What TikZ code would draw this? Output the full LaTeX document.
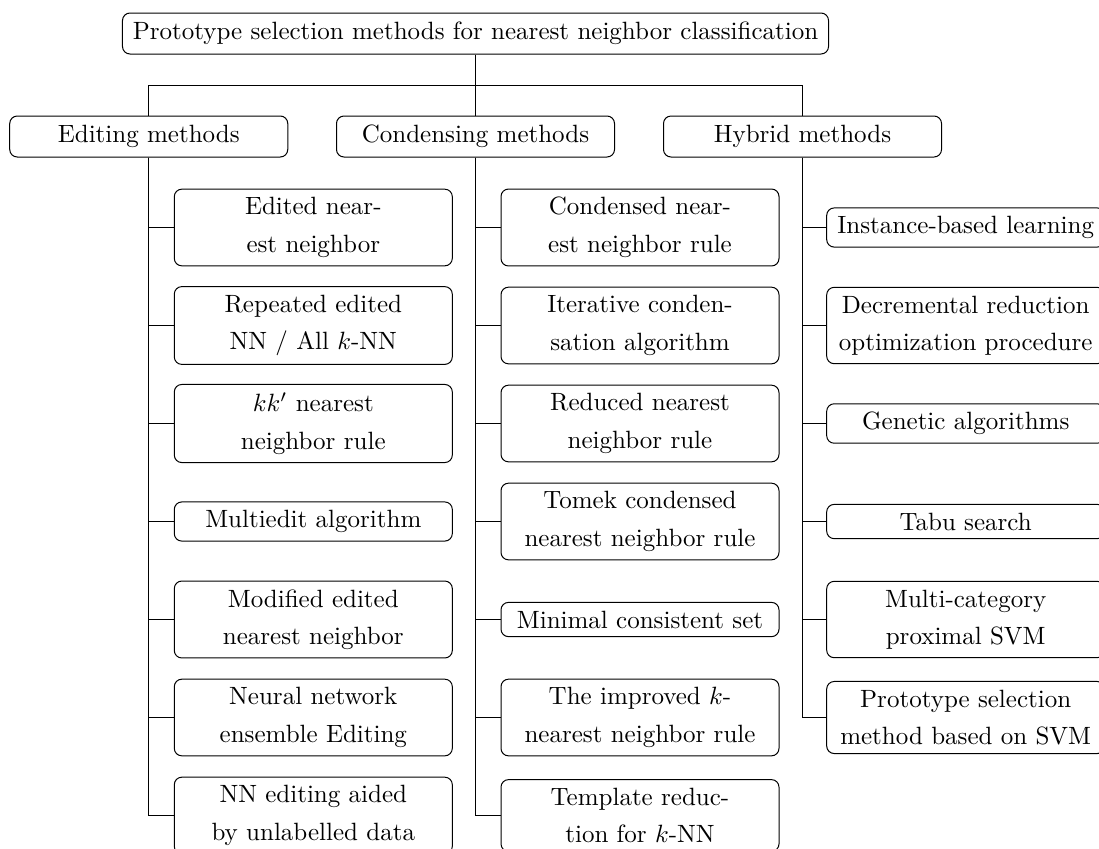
\documentclass[tikz,border=0pt]{standalone}
\begin{document}
\begin{tikzpicture}[x=0.4pt,y=-0.4pt,
  box/.style={draw, rounded corners=3pt, align=center, minimum width=111.2pt,
    inner sep=3.333pt, font=\fontsize{10pt}{15pt}\selectfont},
  topbox/.style={box, minimum height=16.4pt},
  conn/.style={draw, line width=0.4pt}]
\useasboundingbox (0,0) rectangle (1099,848);

% root and first level
\node[topbox, minimum width=282.4pt] (root) at (475.5,33.5)
  {Prototype selection methods for nearest neighbor classification};
\node[topbox] (edit) at (148.75,136.5) {Editing methods};
\node[topbox] (cond) at (475.5,136.5) {Condensing methods};
\node[topbox] (hyb)  at (802.5,136.5) {Hybrid methods};
\coordinate (fork) at (475.5,85);
\draw[conn] (root.south) -- (fork) -| (edit.north);
\draw[conn] (fork) -- (cond.north);
\draw[conn] (fork) -| (hyb.north);

% Editing methods
\node[box] (e1) at (313.3,227.5) {Edited near-\\est neighbor};
\node[box] (e2) at (313.3,325.5) {Repeated edited\\NN / All $k$-NN};
\node[box] (e3) at (313.3,423.5) {$kk'$ nearest\\neighbor rule};
\node[box] (e4) at (313.3,521.5) {Multiedit algorithm};
\node[box] (e5) at (313.3,619.5) {Modified edited\\nearest neighbor};
\node[box] (e6) at (313.3,717.5) {Neural network\\ensemble Editing};
\node[box] (e7) at (313.3,815.5) {NN editing aided\\by unlabelled data};
\foreach \n in {e1,e2,e3,e4,e5,e6,e7}
  \draw[conn] (edit.south) |- (\n.west);

% Condensing methods
\node[box] (c1) at (640,227.5) {Condensed near-\\est neighbor rule};
\node[box] (c2) at (640,325.5) {Iterative conden-\\sation algorithm};
\node[box] (c3) at (640,423.5) {Reduced nearest\\neighbor rule};
\node[box] (c4) at (640,521.5) {Tomek condensed\\nearest neighbor rule};
\node[box] (c5) at (640,619.5) {Minimal consistent set};
\node[box] (c6) at (640,717.5) {The improved $k$-\\nearest neighbor rule};
\node[box] (c7) at (640,815.5) {Template reduc-\\tion for $k$-NN};
\foreach \n in {c1,c2,c3,c4,c5,c6,c7}
  \draw[conn] (cond.south) |- (\n.west);

% Hybrid methods
\node[box] (h1) at (965.7,227.5) {Instance-based learning};
\node[box] (h2) at (965.7,325.5) {Decremental reduction\\optimization procedure};
\node[box] (h3) at (965.7,423.5) {Genetic algorithms};
\node[box] (h4) at (965.7,521.5) {Tabu search};
\node[box] (h5) at (965.7,619.5) {Multi-category\\proximal SVM};
\node[box] (h6) at (965.7,717.5) {Prototype selection\\method based on SVM};
\foreach \n in {h1,h2,h3,h4,h5,h6}
  \draw[conn] (hyb.south) |- (\n.west);
\end{tikzpicture}
\end{document}
